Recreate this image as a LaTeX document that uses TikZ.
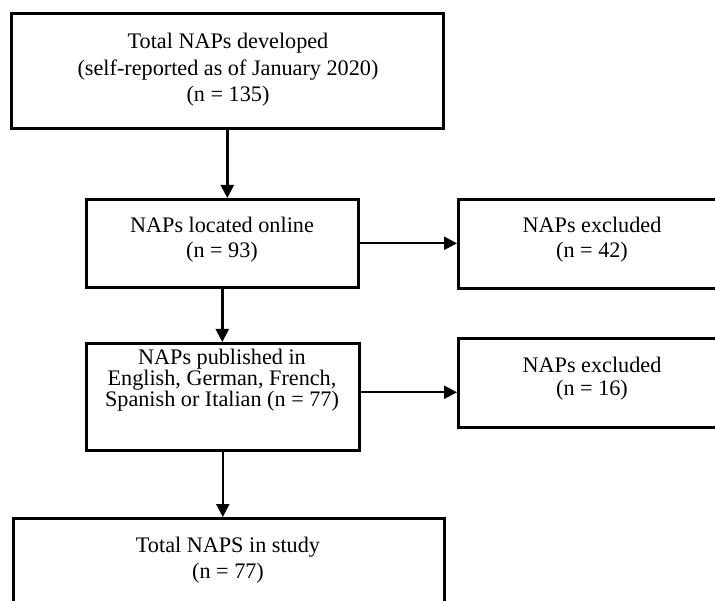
\documentclass[tikz,border=0pt]{standalone}
\usepackage{fontspec}
\setmainfont{Liberation Serif}
\usetikzlibrary{arrows.meta}
\begin{document}
\begin{tikzpicture}[x=1pt,y=-1pt,
  box/.style={draw=black,line width=2.6pt,rectangle,inner sep=0pt,anchor=north west},
  txt/.style={align=center,anchor=base,inner sep=0pt,font=\fontsize{22.2}{25.5}\selectfont},
  arr/.style={line width=2.4pt,-{Triangle[length=13pt,width=13pt]}}]
\useasboundingbox (0,0) rectangle (715,601);
\clip (0,0) rectangle (715,601);
\node[box,minimum width=432pt,minimum height=115pt] (A) at (10,12) {};
\node[box,minimum width=272pt,minimum height=88pt] (B) at (85,198) {};
\node[box,minimum width=270pt,minimum height=89pt] (C) at (457,198) {};
\node[box,minimum width=273pt,minimum height=107pt] (D) at (85,342) {};
\node[box,minimum width=270pt,minimum height=89pt] (C2) at (457,337) {};
\node[box,minimum width=431pt,minimum height=123pt] (E) at (12,517) {};
\node[txt,font=\fontsize{22.2}{26.5}\selectfont] (tA) at (228,102) {Total NAPs developed\\(self-reported as of January 2020)\\(n = 135)};
\node[txt] (tB) at (222,258) {NAPs located online\\(n = 93)};
\node[txt] (tC) at (592,258) {NAPs excluded\\(n = 42)};
\node[txt,font=\fontsize{22.2}{21.5}\selectfont] (tD) at (222,407) {NAPs published in\\English, German, French,\\Spanish or Italian (n = 77)};
\node[txt,font=\fontsize{22.2}{24}\selectfont] (tC2) at (592,396) {NAPs excluded\\(n = 16)};
\node[txt,font=\fontsize{22.2}{26}\selectfont] (tE) at (228,578) {Total NAPS in study\\(n = 77)};
\draw[arr] (A.south) -- (A.south |- B.north);
\draw[arr] (B.south) -- (B.south |- D.north);
\draw[arr] (D.south) -- (D.south |- E.north);
\draw[arr] (B.east) -- (B.east -| C.west);
\draw[arr] ([yshift=4.5pt]D.east) -- ([yshift=4.5pt]D.east -| C2.west);
\end{tikzpicture}
\end{document}
